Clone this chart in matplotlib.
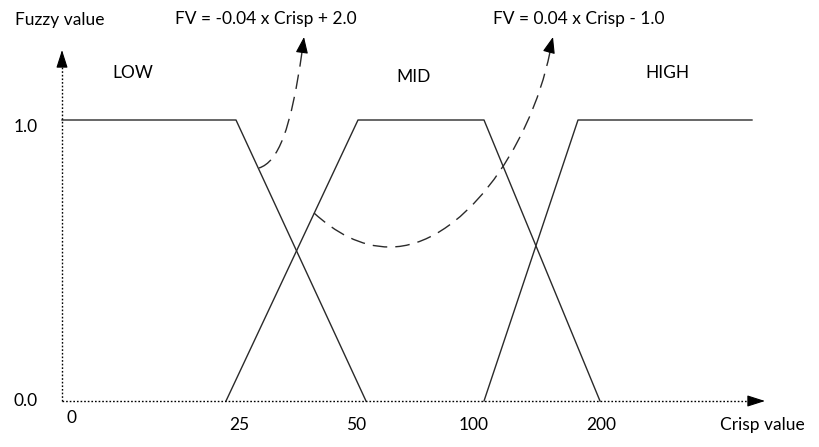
import matplotlib
matplotlib.use("Agg")
import matplotlib.pyplot as plt
from matplotlib.path import Path
from matplotlib.patches import PathPatch

plt.rcParams['font.family'] = ['Lato', 'DejaVu Sans']

# ---- data (x in position units along the drawn axis, y = fuzzy value) ----
low_x = [0, 174, 304]
low_y = [1.0, 1.0, 0.0]
mid_x = [164, 296, 422, 538]
mid_y = [0.0, 1.0, 1.0, 0.0]
high_x = [422, 516, 690]
high_y = [0.0, 1.0, 1.0]

set_names = ["LOW", "MID", "HIGH"]
xtick_labels = ["0", "25", "50", "100", "200"]
ytick_labels = ["0.0", "1.0"]
formula_low = "FV = -0.04 x Crisp + 2.0"
formula_high = "FV = 0.04 x Crisp - 1.0"

# ---- layout helpers (pixel -> data) ----
X0, Y0, YS = 62.0, 401.0, 281.0
def P(xp, yp):
    return (xp - X0, (Y0 - yp) / YS)

W, H = 820, 447
fig = plt.figure(figsize=(W / 100, H / 100), dpi=100)
ax = fig.add_axes([0, 0, 1, 1])
ax.set_xlim(-X0, W - X0)
ax.set_ylim((Y0 - H) / YS, Y0 / YS)
ax.axis('off')

lc = '#2a2a2a'
lw = 1.0
ax.plot(low_x, low_y, color=lc, lw=lw)
ax.plot(mid_x, mid_y, color=lc, lw=lw)
ax.plot(high_x, high_y, color=lc, lw=lw)

# axes (dotted) with arrows
dot = (0, (1.2, 1.4))
xt = P(765, 401); yt = P(62, 50)
ax.plot([0, P(752, 401)[0]], [0, 0], color='black', lw=1.0, linestyle=dot)
ax.plot([0, 0], [0, P(62, 63)[1]], color='black', lw=1.0, linestyle=dot)
ap = dict(arrowstyle='-|>,head_length=1.0,head_width=0.32', color='black',
          lw=0.8, mutation_scale=11, shrinkA=0, shrinkB=0)
ax.annotate('', xy=xt, xytext=P(750, 401), arrowprops=ap)
ax.annotate('', xy=yt, xytext=P(62, 66), arrowprops=ap)

# dashed curves with arrows
dash = (0, (10.5, 5.8))
c1 = [P(259, 168), P(278, 162), P(291, 130), P(302, 52)]
path1 = Path(c1, [Path.MOVETO, Path.CURVE4, Path.CURVE4, Path.CURVE4])
ax.add_patch(PathPatch(path1, fill=False, color=lc, lw=lw, linestyle=dash))
c2 = [P(314, 213), P(335, 232), P(360, 247), P(390, 247),
      P(460, 247), P(530, 150), P(550, 52)]
path2 = Path(c2, [Path.MOVETO] + [Path.CURVE4] * 6)
ax.add_patch(PathPatch(path2, fill=False, color=lc, lw=lw, linestyle=dash))
ap2 = dict(arrowstyle='-|>,head_length=1.0,head_width=0.38', color='black',
           lw=0.8, mutation_scale=10, shrinkA=0, shrinkB=0)
ax.annotate('', xy=P(304, 37), xytext=P(302, 52), arrowprops=ap2)
ax.annotate('', xy=P(553, 37), xytext=P(549, 52), arrowprops=ap2)

fs = 12.5
tc = 'black'
ax.text(*P(15, 20), "Fuzzy value", fontsize=fs, ha='left', va='center', color=tc)
ax.text(*P(133, 73), set_names[0], fontsize=fs, ha='center', va='center', color=tc)
ax.text(*P(414, 77), set_names[1], fontsize=fs, ha='center', va='center', color=tc)
ax.text(*P(667, 73), set_names[2], fontsize=fs, ha='center', va='center', color=tc)
ax.text(*P(175, 19), formula_low, fontsize=fs, ha='left', va='center', color=tc)
ax.text(*P(493, 19), formula_high, fontsize=fs, ha='left', va='center', color=tc)

ax.text(*P(38, 401), ytick_labels[0], fontsize=fs, ha='right', va='center', color=tc)
ax.text(*P(38, 127), ytick_labels[1], fontsize=fs, ha='right', va='center', color=tc)

xtick_px = [(72, 418), (239, 425), (356, 425), (474, 425), (601, 425)]
for lab, (xp, yp) in zip(xtick_labels, xtick_px):
    ax.text(*P(xp, yp), lab, fontsize=fs, ha='center', va='center', color=tc)
ax.text(*P(720, 425), "Crisp value", fontsize=fs, ha='left', va='center', color=tc)

fig.savefig("out.png", dpi=100)
